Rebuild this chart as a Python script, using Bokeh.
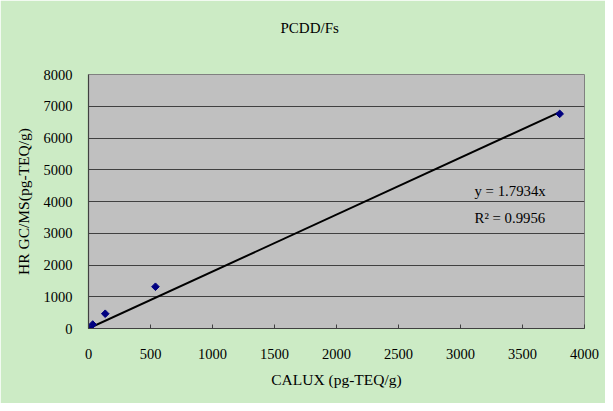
from bokeh.plotting import figure
from bokeh.models import Range1d, SingleIntervalTicker, Label, Title
from bokeh.embed import file_html
from bokeh.resources import INLINE

# ---- data ----
calux = [0, 34, 135, 540, 3800]          # CALUX (pg-TEQ/g)
hrgcms = [0, 125, 465, 1315, 6760]       # HR GC/MS (pg-TEQ/g)
slope = 1.7934
r_squared = 0.9956
title_text = "PCDD/Fs"
x_label = "CALUX (pg-TEQ/g)"
y_label = "HR GC/MS(pg-TEQ/g)"

FONT = "Liberation Serif"
FS_TICK = "14.5px"
FS_LABEL = "15.5px"
FS_TITLE = "15px"
FS_EQ = "14.8px"

p = figure(width=605, height=403, output_backend="svg", toolbar_location=None,
           title=None,
           x_range=Range1d(0, 4000), y_range=Range1d(0, 8000),
           min_border_left=88, min_border_right=21, min_border_top=74, min_border_bottom=75,
           background_fill_color="#C0C0C0", border_fill_color="#CCEBC5",
           outline_line_color="#808080", outline_line_width=1)

# axes
p.xaxis.ticker = SingleIntervalTicker(interval=500)
p.yaxis.ticker = SingleIntervalTicker(interval=1000)
p.xgrid.visible = False
p.ygrid.grid_line_color = "#404040"
p.ygrid.grid_line_width = 1.2

for ax in (p.xaxis[0], p.yaxis[0]):
    ax.axis_line_color = "#404040"
    ax.axis_line_width = 1.2
    ax.minor_tick_line_color = None
    ax.major_tick_line_color = "#404040"
    ax.major_label_text_font = FONT
    ax.major_label_text_font_size = FS_TICK
    ax.major_label_text_color = "black"
    ax.axis_label_text_font = FONT
    ax.axis_label_text_font_size = FS_LABEL
    ax.axis_label_text_font_style = "normal"
    ax.axis_label_text_color = "black"

p.xaxis.axis_label = x_label
p.yaxis.axis_label = y_label
p.xaxis.major_tick_in = 4
p.xaxis.major_tick_out = 0
p.yaxis.major_tick_in = 0
p.yaxis.major_tick_out = 0
p.xaxis.major_label_standoff = 16
p.xaxis.axis_label_standoff = 9
p.yaxis.major_label_standoff = 12
p.yaxis.axis_label_standoff = 9

# title: an invisible spacer panel nearest the frame, then the visible title above it
p.add_layout(Title(text=" ", text_font=FONT, text_font_size=FS_TICK, standoff=16,
                   text_color="#CCEBC5"), "above")
p.add_layout(Title(text=title_text, align="left", offset=192, standoff=10,
                   text_font=FONT, text_font_size=FS_TITLE, text_font_style="normal",
                   text_color="black"), "above")

# trendline y = slope * x through origin
line_x = [0, max(calux)]
line_y = [slope * v for v in line_x]
p.line(line_x, line_y, line_color="black", line_width=2)

# data points (navy diamonds)
p.scatter(calux, hrgcms, marker="square", angle=0.785398, size=5.4,
          fill_color="#000080", line_color="#000080")

# equation text
p.add_layout(Label(x=3113, y=4315, text=f"y = {slope}x", text_align="left",
                   text_baseline="alphabetic", text_font=FONT, text_font_size=FS_EQ,
                   text_color="black"))
p.add_layout(Label(x=3113, y=3496, text=f"R\u00b2 = {r_squared}", text_align="left",
                   text_baseline="alphabetic", text_font=FONT, text_font_size=FS_EQ,
                   text_color="black"))

open("out.html", "w").write(file_html(p, INLINE))
